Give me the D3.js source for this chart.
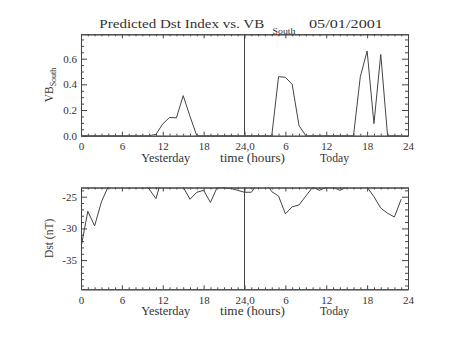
<!DOCTYPE html>
<html><head><meta charset="utf-8">
<script src="https://cdn.jsdelivr.net/npm/d3@7"></script>
<style>
body{margin:0;background:#fff}
svg{display:block}
text{font-family:"Liberation Serif","DejaVu Serif",serif;fill:#333}
</style>
</head><body><svg id="c" width="454" height="341"></svg>
<script>
// ---- data ----
const hours = d3.range(0, 48);
const vbSouth = [0,0,0,0,0,0,0,0,0,0,0,0.01,0.092,0.142,0.139,0.312,0.15,0,
  0,0,0,0,0,0,0,0,0,0,0,0.46,0.455,0.40,0.079,0,0,0,0,0,0,0,0,
  0.46,0.66,0.094,0.633,0,0,0];
const dst = [-33.0,-27.3,-29.6,-25.8,-23.4,-22.5,-22.0,-22.0,-22.3,-22.8,-23.8,-25.3,
  -21.6,-22.0,-22.5,-23.5,-25.4,-24.3,-24.0,-25.9,-23.5,-23.6,-23.7,-24.0,
  -24.3,-24.3,-22.8,-22.6,-24.2,-24.9,-27.7,-26.6,-26.3,-24.9,-23.5,-24.0,
  -23.5,-23.5,-24.0,-23.5,-22.8,-22.5,-23.5,-25.0,-26.8,-27.6,-28.2,-25.4];
const xTickValues = [0,6,12,18,24,30,36,42,48];
const xTickLabels = ["0","6","12","18","24,0","6","12","18","24"];
const xMinorStep = 1;
const vbTicks = [0,0.2,0.4,0.6];
const vbTickLabels = ["0.0","0.2","0.4","0.6"];
const vbMinorStep = 0.05;
const dstTicks = [-35,-30,-25];
const dstTickLabels = ["-35","-30","-25"];
const dstMinorStep = 1;
const vbDomain = [0, 0.79];
const dstDomain = [-39.6, -23.55];
const xTitleParts = ["Yesterday","time (hours)","Today"];
const titleMain = "Predicted Dst Index vs. VB";
const titleSub = "South";
const titleDate = "05/01/2001";
const nowMark = 24;

// ---- layout ----
const svg = d3.select("#c");
const L = 81, R = 408;
const ink = "#444";
const x = d3.scaleLinear().domain([0,48]).range([L,R]);
const xMinor = d3.range(0, 48.001, xMinorStep).filter(v => !xTickValues.includes(v));

function styleAxis(g){
  g.selectAll("path,line").attr("stroke", ink).attr("stroke-width", 1);
  g.selectAll("text").attr("fill", "#333").attr("font-family", '"Liberation Serif",serif');
}

function panel(id, y0, y1, domain, ticks, tickLabels, minorStep, data, labelFn){
  const y = d3.scaleLinear().domain(domain).range([y1, y0]);
  const g = svg.append("g");
  const yMinor = d3.range(Math.ceil(domain[0]/minorStep)*minorStep, domain[1]+1e-9, minorStep)
    .map(v => +v.toFixed(4)).filter(v => !ticks.some(t => Math.abs(t - v) < 1e-6));

  svg.append("clipPath").attr("id", "clip"+id).append("rect")
    .attr("x", L).attr("y", y0).attr("width", R-L).attr("height", y1-y0);

  // x axes
  g.append("g").attr("transform", `translate(0,${y1})`)
    .call(d3.axisBottom(x).tickValues(xTickValues).tickFormat((d,i)=>xTickLabels[i])
      .tickSizeInner(-4).tickSizeOuter(0).tickPadding(6.5))
    .call(styleAxis).selectAll("text").attr("font-size", 11);
  g.append("g").attr("transform", `translate(0,${y1})`)
    .call(d3.axisBottom(x).tickValues(xMinor).tickFormat("").tickSizeInner(-2).tickSizeOuter(0))
    .call(styleAxis);
  g.append("g").attr("transform", `translate(0,${y0})`)
    .call(d3.axisTop(x).tickValues(xTickValues).tickFormat("").tickSizeInner(-4).tickSizeOuter(0))
    .call(styleAxis);
  g.append("g").attr("transform", `translate(0,${y0})`)
    .call(d3.axisTop(x).tickValues(xMinor).tickFormat("").tickSizeInner(-2).tickSizeOuter(0))
    .call(styleAxis);

  // y axes
  g.append("g").attr("transform", `translate(${L},0)`)
    .call(d3.axisLeft(y).tickValues(ticks).tickFormat((d,i)=>tickLabels[i])
      .tickSizeInner(-6).tickSizeOuter(0).tickPadding(4))
    .call(styleAxis).selectAll("text").attr("font-size", 11);
  g.append("g").attr("transform", `translate(${L},0)`)
    .call(d3.axisLeft(y).tickValues(yMinor).tickFormat("").tickSizeInner(-3).tickSizeOuter(0))
    .call(styleAxis);
  g.append("g").attr("transform", `translate(${R},0)`)
    .call(d3.axisRight(y).tickValues(ticks).tickFormat("").tickSizeInner(-6).tickSizeOuter(0))
    .call(styleAxis);
  g.append("g").attr("transform", `translate(${R},0)`)
    .call(d3.axisRight(y).tickValues(yMinor).tickFormat("").tickSizeInner(-3).tickSizeOuter(0))
    .call(styleAxis);

  // vertical "now" line
  g.append("line").attr("x1", x(nowMark)).attr("x2", x(nowMark))
    .attr("y1", y0).attr("y2", y1).attr("stroke", ink).attr("stroke-width", 1);

  // data line
  g.append("path").datum(data)
    .attr("clip-path", `url(#clip${id})`)
    .attr("fill", "none").attr("stroke", ink).attr("stroke-width", 1)
    .attr("d", d3.line().x((d,i)=>x(hours[i])).y(d=>y(d)));

  // x title parts
  const tb = y1 + 25.8;
  const parts = [[165.7, 49], [252.5, 65], [334.5, 29]];
  xTitleParts.forEach((t,i)=>{
    g.append("text").attr("x", parts[i][0]).attr("y", tb).attr("text-anchor","middle")
      .attr("font-size", 11.5).attr("textLength", parts[i][1]).attr("lengthAdjust","spacingAndGlyphs")
      .text(t);
  });

  // y label
  const yl = g.append("text").attr("text-anchor","middle")
    .attr("transform", `translate(53,${(y0+y1)/2}) rotate(-90)`).attr("font-size", 11.5);
  labelFn(yl);
  return y;
}

panel("a", 34.3, 135.7, vbDomain, vbTicks, vbTickLabels, vbMinorStep, vbSouth, t => {
  t.append("tspan").text("VB");
  t.append("tspan").attr("font-size", 8).attr("dy", 3).text("South");
});
panel("b", 187.5, 289.3, dstDomain, dstTicks, dstTickLabels, dstMinorStep, dst, t => {
  t.text("Dst (nT)");
});

// title
svg.append("text").attr("x", 99.3).attr("y", 28).attr("font-size", 13)
  .attr("textLength", 165).attr("lengthAdjust","spacingAndGlyphs").text(titleMain);
svg.append("text").attr("x", 272.5).attr("y", 33.5).attr("font-size", 8.5)
  .attr("textLength", 23).attr("lengthAdjust","spacingAndGlyphs").text(titleSub);
svg.append("text").attr("x", 309).attr("y", 28).attr("font-size", 13)
  .attr("textLength", 74).attr("lengthAdjust","spacingAndGlyphs").text(titleDate);
</script>
</body></html>
